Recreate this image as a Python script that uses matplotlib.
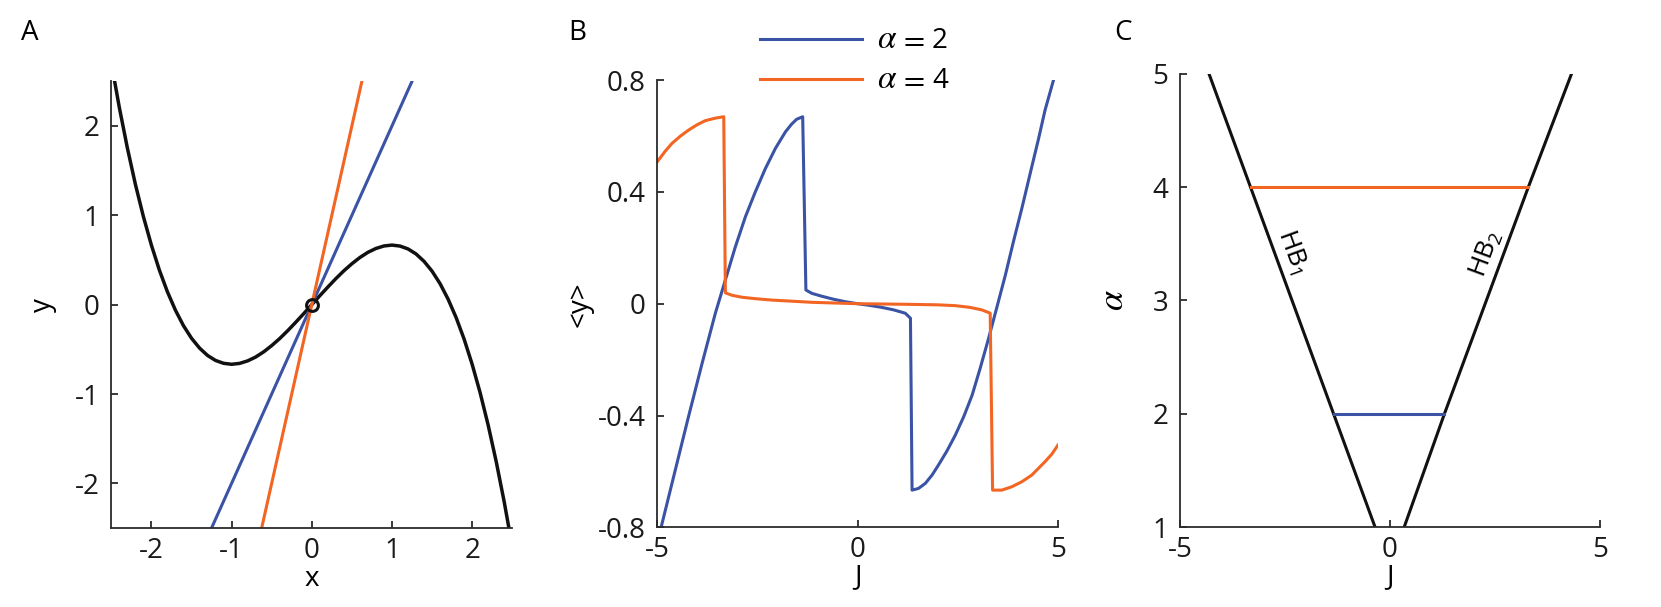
import matplotlib
matplotlib.use("Agg")
import matplotlib.pyplot as plt
from matplotlib.lines import Line2D

plt.rcParams['font.family'] = ['Open Sans', 'DejaVu Sans']
plt.rcParams['axes.unicode_minus'] = False

# ---------------- data ----------------
# Panel A: cubic nullcline, two straight lines and the fixed point
cubic_x = [-2.5, -2.4, -2.3, -2.2, -2.1, -2.0, -1.9, -1.8, -1.7, -1.6, -1.5, -1.4, -1.3, -1.2, -1.1,
           -1.0, -0.9, -0.8, -0.7, -0.6, -0.5, -0.4, -0.3, -0.2, -0.1, 0.0,
           0.1, 0.2, 0.3, 0.4, 0.5, 0.6, 0.7, 0.8, 0.9, 1.0, 1.1, 1.2, 1.3, 1.4, 1.5,
           1.6, 1.7, 1.8, 1.9, 2.0, 2.1, 2.2, 2.3, 2.4, 2.5]
cubic_y = [2.708, 2.208, 1.756, 1.349, 0.987, 0.667, 0.386, 0.144, -0.062, -0.235, -0.375, -0.485,
           -0.568, -0.624, -0.656, -0.667, -0.657, -0.629, -0.586, -0.528, -0.458, -0.379, -0.291,
           -0.197, -0.100, 0.0,
           0.100, 0.197, 0.291, 0.379, 0.458, 0.528, 0.586, 0.629, 0.657, 0.667, 0.656, 0.624,
           0.568, 0.485, 0.375, 0.235, 0.062, -0.144, -0.386, -0.667, -0.987, -1.349, -1.756,
           -2.208, -2.708]
line2_x = [-1.25, 1.25]
line2_y = [-2.5, 2.5]
line4_x = [-0.625, 0.625]
line4_y = [-2.5, 2.5]
fixed_x = [0.0]
fixed_y = [0.0]

# Panel B: <y> versus J
blue_J = [-5.0, -4.90, -4.55, -4.22, -3.88, -3.55, -3.30, -3.05, -2.80, -2.55, -2.30, -2.05,
          -1.80, -1.65, -1.52, -1.37,
          -1.29, -1.14, -0.9, -0.6, -0.3, 0.0, 0.3, 0.6, 0.9, 1.19, 1.32,
          1.36, 1.52, 1.69, 1.86, 2.02, 2.23, 2.44, 2.65, 2.86, 3.06, 3.27, 3.48, 3.69, 3.89,
          4.10, 4.31, 4.52, 4.68, 4.89, 5.0]
blue_y = [-0.86, -0.798, -0.595, -0.404, -0.213, -0.034, 0.085, 0.204, 0.311, 0.401, 0.484, 0.556,
          0.615, 0.642, 0.660, 0.669,
          0.049, 0.037, 0.027, 0.016, 0.007, 0.0, -0.006, -0.013, -0.022, -0.034, -0.052,
          -0.667, -0.661, -0.643, -0.613, -0.577, -0.527, -0.470, -0.404, -0.327, -0.231, -0.124,
          -0.011, 0.103, 0.222, 0.341, 0.467, 0.592, 0.693, 0.800, 0.86]
orange_J = [-5.0, -4.80, -4.63, -4.42, -4.22, -4.01, -3.80, -3.55, -3.34,
            -3.30, -3.13, -2.88, -2.55, -2.14, -1.14, 0.0, 1.19, 2.0, 2.44, 2.8, 3.10, 3.31,
            3.37, 3.60, 3.85, 4.10, 4.35, 4.68, 4.85, 5.0]
orange_y = [0.508, 0.546, 0.574, 0.600, 0.621, 0.640, 0.655, 0.664, 0.669,
            0.039, 0.030, 0.023, 0.018, 0.013, 0.005, 0.0, -0.002, -0.004, -0.007, -0.013, -0.022,
            -0.034,
            -0.667, -0.667, -0.655, -0.637, -0.613, -0.565, -0.538, -0.506]

# Panel C: Hopf bifurcation lines in the (J, alpha) plane
hb1_J = [-4.31, -3.32, -2.33, -1.34, -0.35]
hb1_a = [5, 4, 3, 2, 1]
hb2_J = [0.34, 1.30, 2.30, 3.30, 4.33]
hb2_a = [1, 2, 3, 4, 5]
seg4_J = [-3.30, 3.30]
seg4_a = [4, 4]
seg2_J = [-1.33, 1.30]
seg2_a = [2, 2]

legend_values = ['2', '4']

# ---------------- style ----------------
BLUE = '#3a53a4'
ORANGE = '#f26522'
SPINE = '#2b2b2b'
FS = 20
LW = 2.2
W, H = 1661, 607

fig = plt.figure(figsize=(16.61, 6.07), dpi=100)
axA = fig.add_axes([0.0670, 0.1300, 0.2414, 0.7361])
axB = fig.add_axes([0.3957, 0.1313, 0.2412, 0.7367])
axC = fig.add_axes([0.7104, 0.1313, 0.2527, 0.7474])

for ax in (axA, axB, axC):
    for s in ('top', 'right'):
        ax.spines[s].set_visible(False)
    for s in ('left', 'bottom'):
        ax.spines[s].set_linewidth(1.3)
        ax.spines[s].set_color(SPINE)
    ax.tick_params(direction='in', length=5, width=1.3, color=SPINE, labelsize=FS,
                   labelcolor='#1a1a1a')
    ax.tick_params(axis='x', pad=6.5)
    ax.tick_params(axis='y', pad=8.5)

# Panel A
axA.plot(cubic_x, cubic_y, color='#111111', lw=LW + 0.3)
axA.plot(line2_x, line2_y, color=BLUE, lw=LW)
axA.plot(line4_x, line4_y, color=ORANGE, lw=LW)
axA.plot(fixed_x, fixed_y, 'o', mfc='none', mec='#111111', ms=8.5, mew=2.2)
axA.set_xlim(-2.5, 2.5)
axA.set_ylim(-2.5, 2.5)
axA.set_xticks([-2, -1, 0, 1, 2])
axA.set_yticks([-2, -1, 0, 1, 2])
axA.set_xlabel('x', fontsize=FS)
axA.set_ylabel('y', fontsize=FS)
axA.xaxis.set_label_coords(0.5, -0.113)
axA.yaxis.set_label_coords(-0.171, 0.5)

# Panel B
axB.plot(blue_J, blue_y, color=BLUE, lw=LW)
axB.plot(orange_J, orange_y, color=ORANGE, lw=LW)
axB.set_xlim(-5, 5)
axB.set_ylim(-0.8, 0.8)
axB.set_xticks([-5, 0, 5])
axB.set_yticks([-0.8, -0.4, 0, 0.4, 0.8])
axB.set_yticklabels(['-0.8', '-0.4', '0', '0.4', '0.8'])
axB.set_xlabel('J', fontsize=FS)
axB.set_ylabel('<y>', fontsize=FS)
axB.xaxis.set_label_coords(0.5, -0.111)
axB.yaxis.set_label_coords(-0.193, 0.5)

# legend (drawn by hand to mix a large math alpha with sans digits)
for val, col, yb in zip(legend_values, [BLUE, ORANGE], [38.5, 78.5]):
    fig.add_artist(Line2D([760 / W, 861.7 / W], [1 - yb / H, 1 - yb / H],
                          transform=fig.transFigure, color=col, lw=LW))
    base = 1 - (yb + 9.8) / H
    fig.text(886.7 / W, base, r'$\alpha$', ha='center', va='baseline', fontsize=24,
             math_fontfamily='stix')
    fig.text(912.0 / W, base, r'$=$', ha='center', va='baseline', fontsize=22,
             math_fontfamily='stix')
    fig.text(940.0 / W, base, val, ha='center', va='baseline', fontsize=FS)

# Panel C
axC.plot(hb1_J, hb1_a, color='#111111', lw=LW)
axC.plot(hb2_J, hb2_a, color='#111111', lw=LW)
axC.plot(seg4_J, seg4_a, color=ORANGE, lw=LW)
axC.plot(seg2_J, seg2_a, color=BLUE, lw=LW)
axC.set_xlim(-5, 5)
axC.set_ylim(1, 5)
axC.set_xticks([-5, 0, 5])
axC.set_yticks([1, 2, 3, 4, 5])
axC.set_xlabel('J', fontsize=FS)
axC.set_ylabel(r'$\alpha$', fontsize=26, math_fontfamily='stix')
axC.xaxis.set_label_coords(0.5, -0.109)
axC.yaxis.set_label_coords(-0.157, 0.5)
axC.text(-2.33, 3.43, r'HB$_{\mathregular{1}}$', rotation=-69.9, rotation_mode='anchor',
         ha='center', va='center', fontsize=19)
axC.text(2.28, 3.41, r'HB$_{\mathregular{2}}$', rotation=69.7, rotation_mode='anchor',
         ha='center', va='center', fontsize=19)

for ax in (axA, axB, axC):
    ax.xaxis.label.set_va('center')
    ax.yaxis.label.set_va('center')

# panel letters
fig.text(29.6 / W, 1 - 32.9 / H, 'A', ha='center', va='center', fontsize=FS)
fig.text(577.7 / W, 1 - 32.9 / H, 'B', ha='center', va='center', fontsize=FS)
fig.text(1123.2 / W, 1 - 32.9 / H, 'C', ha='center', va='center', fontsize=FS)

fig.savefig('out.png', dpi=100)
